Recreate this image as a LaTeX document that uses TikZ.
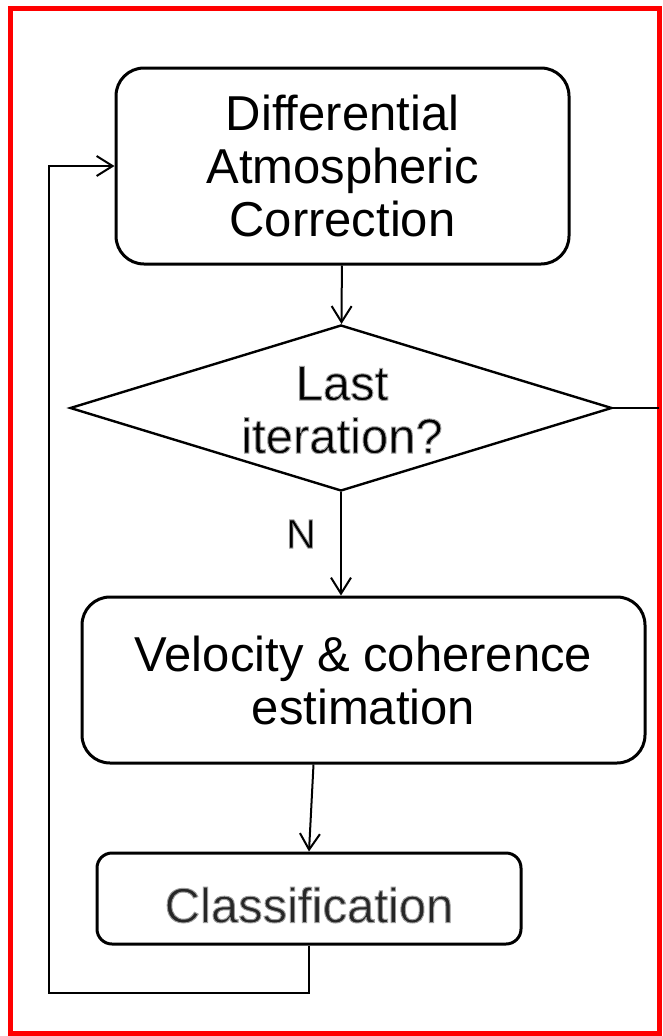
\documentclass[tikz,border=0pt]{standalone}
\usepackage{fontspec}
\setmainfont{Liberation Sans}
\usepackage{tikz}
\usetikzlibrary{
    shapes.geometric,
    arrows.meta,
    positioning,
    calc
}
% gray halo: stroke the glyph outlines in gray, fill them in the text colour
\newcommand{\glowtext}[1]{{\addfontfeature{FakeBold=2}\special{pdf:code 0.62 G}#1}}

\begin{document}
\begin{tikzpicture}[
        x=1pt, y=-1pt,
        >={Straight Barb[length=16pt, width=20pt]},
        proc/.style={rectangle, rounded corners=#1, draw=black, line width=3pt, fill=white, align=center, inner sep=0pt, font=\fontsize{49}{53}\selectfont},
        proc/.default=28pt,
        decision/.style={diamond, draw=black, line width=2.4pt, inner sep=0pt, minimum width=542pt, minimum height=166pt},
        lbl/.style={align=center, inner sep=0pt, font=\fontsize{49}{53}\selectfont},
        flow/.style={->, line width=2pt, black}
    ]
        \useasboundingbox (0,0) rectangle (662,1036);
        \draw[red, line width=5pt] (10,8) rectangle (659,1033.5);

        \node[proc, minimum width=453pt, minimum height=196pt] (dac) at (342.5, 166) {Differential\\Atmospheric\\Correction};

        \node[decision] (last) at (341, 408) {};
        \node[lbl] (lasttxt) at (342, 410) {\glowtext{Last}\\\glowtext{iteration?}};

        \node[lbl, font=\fontsize{41}{45}\selectfont] (no) at (301, 534) {\glowtext{N}};

        \node[proc, minimum width=563pt, minimum height=166pt] (velo) at (363.5, 680) {Velocity \& coherence\\estimation};

        \node[proc=15pt, minimum width=424pt, minimum height=91pt] (classif) at (309, 898.5) {};
        \node[lbl, text=black!85] (classiftxt) at (309, 905) {\glowtext{Classification}};

        \coordinate (exit) at (659, 408);
        \coordinate (loopcorner) at (49, 993);

        \draw[flow] (dac) -- (last);
        \draw[line width=2pt] (last.east) -- (exit);
        \draw[flow] (last.south) -- (last.south |- velo.north);
        \draw[flow] ([xshift=-50pt]velo.south) -- (classif.north);
        \draw[flow] (classif.south) |- (loopcorner) |- (dac.west);
    \end{tikzpicture}
\end{document}
